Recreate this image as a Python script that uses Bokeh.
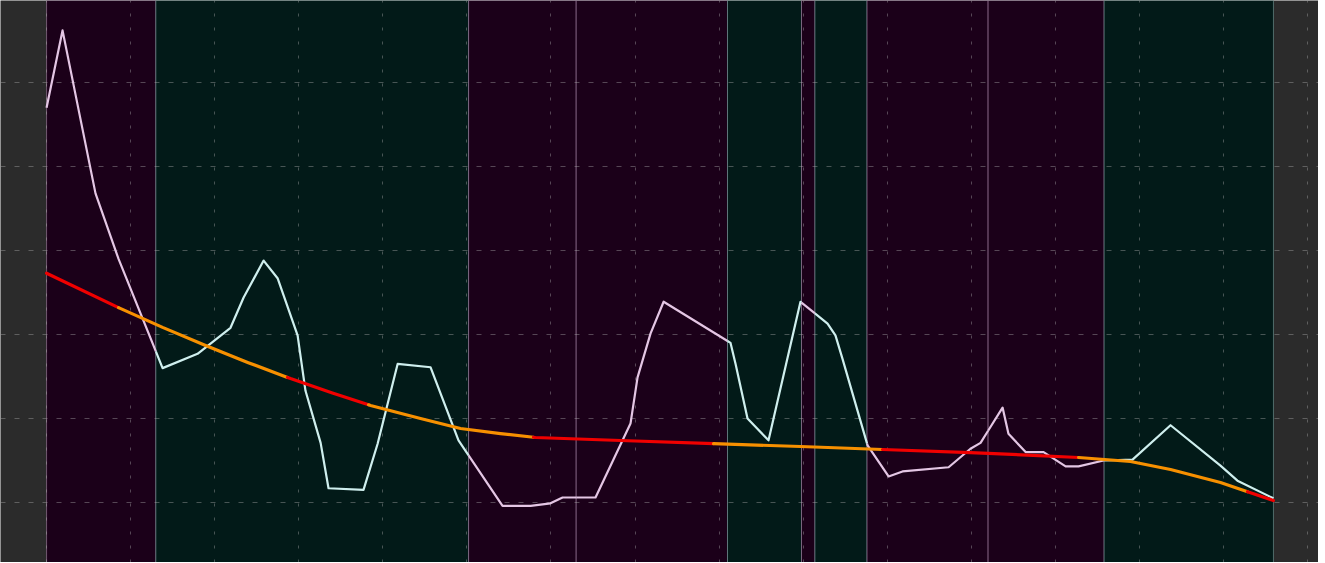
import numpy as np
from bokeh.plotting import figure
from bokeh.models import Range1d, FixedTicker, ColumnDataSource
from bokeh.embed import file_html
from bokeh.resources import INLINE

# --- data ---
price_x = [0.0, 0.95, 2.91, 4.28, 6.90, 8.98, 10.94, 11.72, 12.91, 13.74, 14.93, 15.40,
           16.30, 16.77, 18.85, 19.69, 20.88, 22.84, 24.50, 27.12, 28.79, 29.97, 30.69,
           32.65, 34.73, 35.15, 35.92, 36.70, 40.68, 40.98, 41.69, 42.94, 44.84, 46.45,
           46.92, 47.34, 48.83, 50.08, 50.91, 53.65, 54.95, 55.55, 56.86, 57.21, 58.23,
           59.30, 60.61, 61.38, 62.87, 64.59, 66.85, 69.82, 70.83, 72.97]
price_y = [47.0, 56.2, 36.8, 29.0, 16.0, 17.7, 20.8, 24.4, 28.8, 26.7, 19.9, 13.3,
           7.1, 1.7, 1.5, 7.0, 16.5, 16.1, 7.4, -0.4, -0.4, -0.1, 0.6,
           0.6, 9.4, 14.9, 20.1, 23.9, 19.0, 16.5, 10.0, 7.4, 23.9, 21.3,
           19.9, 17.1, 6.8, 3.1, 3.7, 4.2, 6.4, 7.1, 11.3, 8.2, 6.0,
           6.0, 4.3, 4.3, 5.0, 5.1, 9.2, 4.4, 2.6, 0.5]

trend_x = [0.0, 4.28, 6.9, 9.46, 12.0, 14.51, 17.0, 19.27, 22.24, 24.62, 27.0, 29.08,
           34.14, 39.67, 44.84, 49.72, 54.95, 61.38, 64.47, 66.85, 69.82, 72.97]
trend_y = [27.3, 23.2, 20.85, 18.69, 16.65, 14.76, 13.05, 11.55, 10.0, 8.81, 8.21, 7.74,
           7.38, 7.0, 6.67, 6.31, 5.95, 5.36, 4.88, 3.93, 2.38, 0.24]

# trend colour changes (red / orange)
trend_breaks = [0.0, 4.28, 14.33, 19.15, 28.96, 39.67, 49.72, 61.38, 71.43, 72.97]
trend_kinds = ["red", "orange", "red", "orange", "red", "orange", "red", "orange", "red"]

# regime bands
band_edges = [0.0, 6.5, 25.1, 31.5, 40.5, 44.9, 45.7, 48.8, 56.0, 62.9, 72.97]
band_kinds = ["P", "G", "P", "P", "G", "P", "G", "P", "P", "G"]

grid_x = [0, 5, 10, 15, 20, 25, 30, 35, 40, 45, 50, 55, 60, 65, 70, 75]
grid_y = [0, 10, 20, 30, 40, 50, 60]

# --- styles ---
FILL = {"P": "#1b0019", "G": "#021a18"}
EDGE = {"P": "#b58fb5", "G": "#7fa8a6"}
LINE = {"P": "#e4c6e4", "G": "#cfefee"}
TREND = {"red": "#f00000", "orange": "#f79000"}

X0, X1 = -2.74, 75.65
Y0, Y1 = -7.14, 59.76

p = figure(width=1318, height=562, output_backend="svg", toolbar_location=None,
           x_range=Range1d(X0, X1), y_range=Range1d(Y0, Y1), min_border=0)
p.background_fill_color = "#2b2b2b"
p.border_fill_color = "#2b2b2b"
p.outline_line_color = None
for ax in p.axis:
    ax.visible = False

p.xgrid.ticker = FixedTicker(ticks=grid_x)
p.ygrid.ticker = FixedTicker(ticks=grid_y)
p.xgrid.grid_line_color = "#b0b0b0"
p.xgrid.grid_line_alpha = 0.4
p.xgrid.grid_line_dash = "3 11"
p.ygrid.grid_line_color = "#b0b0b0"
p.ygrid.grid_line_alpha = 0.4
p.ygrid.grid_line_dash = "5 9"

# bands
bsrc = ColumnDataSource(dict(
    left=band_edges[:-1], right=band_edges[1:],
    fill=[FILL[k] for k in band_kinds], edge=[EDGE[k] for k in band_kinds]))
p.quad(left="left", right="right", bottom=Y0, top=Y1, source=bsrc,
       fill_color="fill", line_color="edge", line_alpha=0.55, line_width=1,
       level="image")


def pieces(xs, ys, edges):
    xs = np.asarray(xs, float)
    ys = np.asarray(ys, float)
    out = []
    for a, b in zip(edges[:-1], edges[1:]):
        inner = (xs > a) & (xs < b)
        px = np.concatenate([[a], xs[inner], [b]])
        py = np.concatenate([[np.interp(a, xs, ys)], ys[inner], [np.interp(b, xs, ys)]])
        out.append((px, py))
    return out


# price line, coloured by band
for (sx, sy), k in zip(pieces(price_x, price_y, band_edges), band_kinds):
    p.line(sx, sy, line_color=LINE[k], line_width=2.2, line_join="round")

# trend line
for (sx, sy), k in zip(pieces(trend_x, trend_y, trend_breaks), trend_kinds):
    p.line(sx, sy, line_color=TREND[k], line_width=3.2, line_join="round", line_cap="round")

open("out.html", "w").write(file_html(p, INLINE))
